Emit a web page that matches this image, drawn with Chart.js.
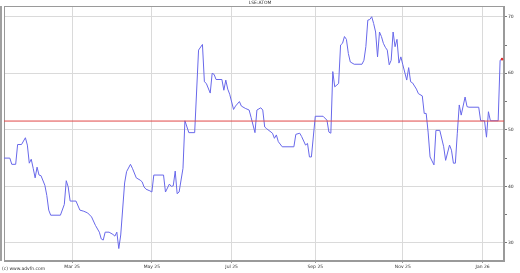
<!DOCTYPE html>
<html lang="en">
<head>
  <meta charset="UTF-8">
  <title>LSE:ATOM</title>
  <script src="https://cdn.jsdelivr.net/npm/chart.js"></script>
  <style>
    html, body { margin: 0; padding: 0; background: #fff; }
  </style>
</head>
<body>
  <canvas id="grafico" width="520" height="273"></canvas>
  <script>
    // trading session index (0 = first session shown) and closing price
    const sessions = [0, 3, 4, 6, 7, 9, 11, 12, 13, 14, 15, 16, 17, 18, 19, 21, 22, 23, 24, 29,
      31, 32, 33, 34, 37, 39, 41, 43, 45, 47, 49, 50, 51, 52, 54, 56, 57, 58, 59, 60,
      62, 63, 65, 66, 68, 70, 71, 72, 73, 75, 76, 77, 82, 83, 85, 86, 87, 88, 89, 90,
      92, 93, 95, 98, 100, 102, 103, 104, 106, 107, 108, 109, 112, 113, 114, 115, 116, 118, 119, 121,
      122, 124, 126, 127, 129, 130, 132, 133, 134, 135, 138, 139, 140, 141, 143, 149, 150, 152, 153, 155,
      156, 157, 158, 160, 164, 166, 167, 168, 169, 170, 172, 173, 174, 175, 176, 177, 178, 180, 184, 185,
      186, 187, 188, 189, 190, 191, 192, 193, 194, 195, 196, 197, 198, 199, 200, 201, 202, 203, 204, 205,
      207, 208, 209, 210, 212, 213, 215, 216, 217, 218, 219, 221, 222, 224, 226, 227, 229, 230, 231, 232,
      233, 234, 235, 237, 238, 239, 244, 245, 247, 248, 249, 250, 254, 255, 256];
    const prices = [45.0, 45.0, 43.9, 43.9, 47.4, 47.4, 48.6, 47.3, 44.1, 44.8, 43.2, 41.5, 43.4, 42.0, 41.9, 40.2, 38.4, 35.8, 34.9, 34.9,
      36.8, 41.0, 39.9, 37.4, 37.4, 35.8, 35.6, 35.3, 34.6, 33.1, 31.9, 30.7, 30.5, 31.9, 31.9, 31.5, 31.2, 31.9, 29.0, 31.4,
      40.6, 42.6, 43.9, 43.2, 41.5, 41.1, 40.8, 39.9, 39.5, 39.2, 39.0, 42.0, 42.0, 39.0, 40.4, 40.0, 40.1, 42.7, 38.7, 39.0,
      43.2, 51.6, 49.5, 49.5, 64.1, 65.1, 58.5, 58.2, 56.5, 60.0, 59.8, 58.9, 58.9, 57.0, 58.8, 57.2, 56.3, 53.6, 54.2, 55.0,
      54.2, 53.8, 53.5, 52.2, 49.5, 53.5, 53.9, 53.5, 50.5, 50.2, 49.4, 48.5, 49.1, 47.9, 47.0, 47.0, 49.2, 49.4, 48.8, 47.3,
      47.6, 45.2, 45.2, 52.4, 52.4, 51.7, 49.6, 49.4, 60.3, 57.6, 58.2, 65.0, 65.3, 66.5, 66.0, 63.5, 62.0, 61.6, 61.6, 62.3,
      64.7, 69.4, 69.5, 70.0, 68.8, 67.3, 62.9, 67.3, 66.5, 65.3, 64.6, 64.1, 61.5, 62.3, 67.3, 64.7, 66.0, 61.8, 62.9, 61.5,
      58.8, 61.0, 58.5, 58.3, 57.2, 56.4, 56.0, 52.9, 52.9, 49.6, 45.2, 43.8, 49.9, 49.9, 47.0, 44.6, 47.3, 46.4, 44.1, 44.1,
      49.4, 54.4, 52.6, 55.8, 54.1, 54.0, 54.0, 51.6, 51.6, 48.7, 53.2, 51.6, 51.6, 62.3, 62.5];

    const monthTicks = [35, 76, 117, 160, 205, 246];
    const monthLabels = ['Mar 25', 'May 25', 'Jul 25', 'Sep 25', 'Nov 25', 'Jan 26'];
    const priceTicks = [30, 35, 40, 45, 50, 55, 60, 65, 70];
    const refLevel = 51.55;
    const xMax = 257;
    const yMin = 26.8;
    const yMax = 71.9;

    const linePts = sessions.map((s, i) => ({ x: s, y: prices[i] }));
    const ultimo = linePts.length - 1;

    const textos = {
      id: 'textos',
      beforeDatasetsDraw(chart) {
        const { ctx, chartArea: a } = chart;
        ctx.save();
        ctx.strokeStyle = '#9a9a9a';
        ctx.lineWidth = 1;
        ctx.strokeRect(a.left + 0.5, a.top + 0.5, a.right - a.left - 1, a.bottom - a.top - 1);
        ctx.fillStyle = '#a0a0a0';
        ctx.fillRect(0, a.top, 2, a.bottom - a.top);
        ctx.restore();
      },
      afterDraw(chart) {
        const ctx = chart.ctx;
        ctx.save();
        ctx.fillStyle = '#333';
        ctx.font = '4.5px "DejaVu Sans"';
        ctx.textAlign = 'center';
        ctx.textBaseline = 'middle';
        ctx.fillText('LSE:ATOM', 260, 3);
        ctx.textAlign = 'left';
        ctx.fillText('(c) www.advfn.com', 2, 269);
        ctx.restore();
      }
    };

    new Chart(document.getElementById('grafico'), {
      type: 'line',
      data: {
        datasets: [{
          data: [{ x: 0, y: refLevel }, { x: xMax, y: refLevel }],
          borderColor: '#e04848',
          borderWidth: 1,
          pointRadius: 0
        }, {
          data: linePts,
          borderColor: '#6868ea',
          borderWidth: 1,
          pointRadius: ctx => ctx.dataIndex === ultimo ? 1.3 : 0,
          pointBackgroundColor: '#e03030',
          pointBorderWidth: 0,
          tension: 0
        }]
      },
      options: {
        responsive: false,
        animation: false,
        layout: { padding: { left: 1, top: 6, right: 0, bottom: 0 } },
        plugins: { legend: { display: false }, tooltip: { enabled: false } },
        scales: {
          x: {
            type: 'linear',
            min: 0,
            max: xMax,
            afterBuildTicks: s => { s.ticks = monthTicks.map(v => ({ value: v })); },
            afterFit: s => { s.height = 12; },
            grid: { color: '#dadada', tickColor: '#999', tickLength: 2 },
            border: { color: '#9a9a9a' },
            ticks: {
              autoSkip: false,
              maxRotation: 0,
              padding: 1,
              color: '#333',
              font: { size: 4.5, family: 'DejaVu Sans' },
              callback: (v, i) => monthLabels[i]
            }
          },
          y: {
            position: 'right',
            min: yMin,
            max: yMax,
            afterBuildTicks: s => { s.ticks = priceTicks.map(v => ({ value: v })); },
            afterFit: s => { s.width = 16; },
            grid: {
              color: c => c.tick && c.tick.value % 10 === 0 ? '#dadada' : 'rgba(0,0,0,0)',
              tickColor: '#777',
              tickLength: 3
            },
            border: { color: '#9a9a9a' },
            ticks: {
              autoSkip: false,
              padding: 1,
              color: '#333',
              font: { size: 4.5, family: 'DejaVu Sans' },
              callback: v => v % 10 === 0 ? v : ''
            }
          }
        }
      },
      plugins: [textos]
    });
  </script>
</body>
</html>
